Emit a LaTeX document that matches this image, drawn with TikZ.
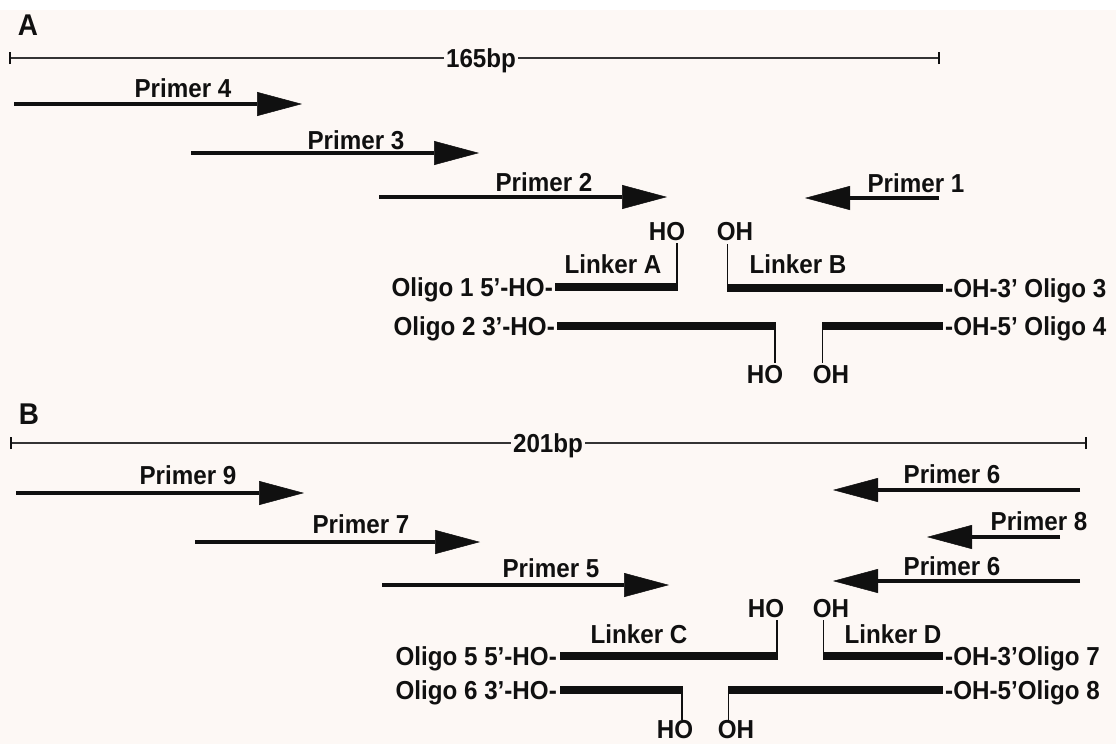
\documentclass[tikz,border=0pt]{standalone}
\usepackage{fontspec}
\setmainfont{Liberation Sans}[FakeStretch=0.93]
\usetikzlibrary{arrows.meta}
\definecolor{bg}{HTML}{FDF8F5}
\definecolor{ink}{HTML}{101010}
\begin{document}
\begin{tikzpicture}[x=1pt,y=-1pt,
  lbl/.style={font=\fontsize{26}{30}\selectfont\bfseries, text=ink, inner sep=0pt},
  panel/.style={font=\fontsize{30}{34}\selectfont\bfseries, text=ink, inner sep=0pt, anchor=base},
  primer/.style={draw=ink, line width=4.5pt, -{Triangle[length=45pt,width=24pt,line width=0.5pt]}},
  scalebar/.style={draw=ink!85, line width=2.8pt},
  endtick/.style={draw=ink, line width=2pt},
  oligo/.style={draw=ink, line width=8.5pt},
  stem/.style={draw=ink, line width=1.5pt}]
\fill[bg] (0,0) rectangle (1116,744);
\fill[white] (0,0) rectangle (1116,10);
\useasboundingbox (0,0) rectangle (1116,744);

% ---------------- Panel A ----------------
\node[panel] (pA) at (28,35) {A};
\coordinate (sA1) at (10,58);
\coordinate (sA2) at (939,58);
\node[lbl, anchor=base, inner xsep=2pt] (tA) at (481,67) {165bp};
\draw[scalebar] (sA1) -- (sA1 -| tA.west);
\draw[scalebar] (tA.east |- sA2) -- (sA2);
\draw[endtick] ([yshift=-6pt]sA1) -- ([yshift=6pt]sA1);
\draw[endtick] ([yshift=-6pt]sA2) -- ([yshift=6pt]sA2);

\node[lbl, anchor=base] (lp4) at (183,97) {Primer 4};
\coordinate (p4a) at (14,104);  \coordinate (p4b) at (302,104);
\draw[primer] (p4a) -- (p4b);
\node[lbl, anchor=base] (lp3) at (356,149) {Primer 3};
\coordinate (p3a) at (191,153); \coordinate (p3b) at (479,153);
\draw[primer] (p3a) -- (p3b);
\node[lbl, anchor=base] (lp2) at (544,191) {Primer 2};
\coordinate (p2a) at (379,197); \coordinate (p2b) at (667,197);
\draw[primer] (p2a) -- (p2b);
\node[lbl, anchor=base] (lp1) at (916,192) {Primer 1};
\coordinate (p1a) at (939,198); \coordinate (p1b) at (805,198);
\draw[primer] (p1a) -- (p1b);

\node[lbl, anchor=base] (hoA) at (667,240) {HO};
\node[lbl, anchor=base] (ohA) at (735,240) {OH};
\node[lbl, anchor=base] (lkA) at (613,273) {Linker A};
\node[lbl, anchor=base] (lkB) at (798,273) {Linker B};

\coordinate (o1a) at (555,287); \coordinate (o1b) at (678,287);
\coordinate (o3a) at (727,288); \coordinate (o3b) at (943,288);
\coordinate (o2a) at (557,326); \coordinate (o2b) at (776,326);
\coordinate (o4a) at (822,326); \coordinate (o4b) at (943,326);
\draw[oligo] (o1a) -- (o1b);
\draw[oligo] (o3a) -- (o3b);
\draw[oligo] (o2a) -- (o2b);
\draw[oligo] (o4a) -- (o4b);
\draw[stem] ([xshift=-1pt]o1b) -- ([xshift=-1pt]o1b |- 0,243);
\draw[stem] ([xshift=0.5pt]o3a) -- ([xshift=0.5pt]o3a |- 0,244);
\draw[stem] ([xshift=-1pt]o2b) -- ([xshift=-1pt]o2b |- 0,363);
\draw[stem] ([xshift=0.5pt]o4a) -- ([xshift=0.5pt]o4a |- 0,363);
\node[lbl, anchor=base] (hoA2) at (765,383) {HO};
\node[lbl, anchor=base] (ohA2) at (831,383) {OH};

\node[lbl, anchor=base east] (lo1) at (553,296) {Oligo 1 5’-HO-};
\node[lbl, anchor=base east] (lo2) at (555,335) {Oligo 2 3’-HO-};
\node[lbl, anchor=base west] (lo3) at (945,297) {-OH-3’ Oligo 3};
\node[lbl, anchor=base west] (lo4) at (945,335) {-OH-5’ Oligo 4};

% ---------------- Panel B ----------------
\node[panel] (pB) at (29,424) {B};
\coordinate (sB1) at (11,443);
\coordinate (sB2) at (1086,443);
\node[lbl, anchor=base, inner xsep=2pt] (tB) at (548,452) {201bp};
\draw[scalebar] (sB1) -- (sB1 -| tB.west);
\draw[scalebar] (tB.east |- sB2) -- (sB2);
\draw[endtick] ([yshift=-6pt]sB1) -- ([yshift=6pt]sB1);
\draw[endtick] ([yshift=-6pt]sB2) -- ([yshift=6pt]sB2);

\node[lbl, anchor=base] (lp9) at (188,484) {Primer 9};
\coordinate (p9a) at (16,493);  \coordinate (p9b) at (304,493);
\draw[primer] (p9a) -- (p9b);
\node[lbl, anchor=base] (lp7) at (361,533) {Primer 7};
\coordinate (p7a) at (195,542); \coordinate (p7b) at (480,542);
\draw[primer] (p7a) -- (p7b);
\node[lbl, anchor=base] (lp5) at (551,577) {Primer 5};
\coordinate (p5a) at (382,585); \coordinate (p5b) at (669,585);
\draw[primer] (p5a) -- (p5b);
\node[lbl, anchor=base] (lp6a) at (952,483) {Primer 6};
\coordinate (p6a) at (1080,490); \coordinate (p6b) at (833,490);
\draw[primer] (p6a) -- (p6b);
\node[lbl, anchor=base] (lp8) at (1039,530) {Primer 8};
\coordinate (p8a) at (1060,537); \coordinate (p8b) at (927,537);
\draw[primer] (p8a) -- (p8b);
\node[lbl, anchor=base] (lp6b) at (952,575) {Primer 6};
\coordinate (p6c) at (1080,581); \coordinate (p6d) at (833,581);
\draw[primer] (p6c) -- (p6d);

\node[lbl, anchor=base] (hoB) at (766,617) {HO};
\node[lbl, anchor=base] (ohB) at (831,617) {OH};
\node[lbl, anchor=base] (lkC) at (639,643) {Linker C};
\node[lbl, anchor=base] (lkD) at (893,643) {Linker D};

\coordinate (o5a) at (560,656); \coordinate (o5b) at (778,656);
\coordinate (o7a) at (823,656); \coordinate (o7b) at (943,656);
\coordinate (o6a) at (560,690); \coordinate (o6b) at (683,690);
\coordinate (o8a) at (728,690); \coordinate (o8b) at (943,690);
\draw[oligo] (o5a) -- (o5b);
\draw[oligo] (o7a) -- (o7b);
\draw[oligo] (o6a) -- (o6b);
\draw[oligo] (o8a) -- (o8b);
\draw[stem] ([xshift=-1pt]o5b) -- ([xshift=-1pt]o5b |- 0,620);
\draw[stem] ([xshift=0.5pt]o7a) -- ([xshift=0.5pt]o7a |- 0,620);
\draw[stem] ([xshift=-1pt]o6b) -- ([xshift=-1pt]o6b |- 0,720);
\draw[stem] ([xshift=0.5pt]o8a) -- ([xshift=0.5pt]o8a |- 0,720);
\node[lbl, anchor=base] (hoB2) at (675,738) {HO};
\node[lbl, anchor=base] (ohB2) at (736,738) {OH};

\node[lbl, anchor=base east] (lo5) at (557,665) {Oligo 5 5’-HO-};
\node[lbl, anchor=base east] (lo6) at (557,699) {Oligo 6 3’-HO-};
\node[lbl, anchor=base west] (lo7) at (945,665) {-OH-3’Oligo 7};
\node[lbl, anchor=base west] (lo8) at (945,699) {-OH-5’Oligo 8};
\end{tikzpicture}
\end{document}
